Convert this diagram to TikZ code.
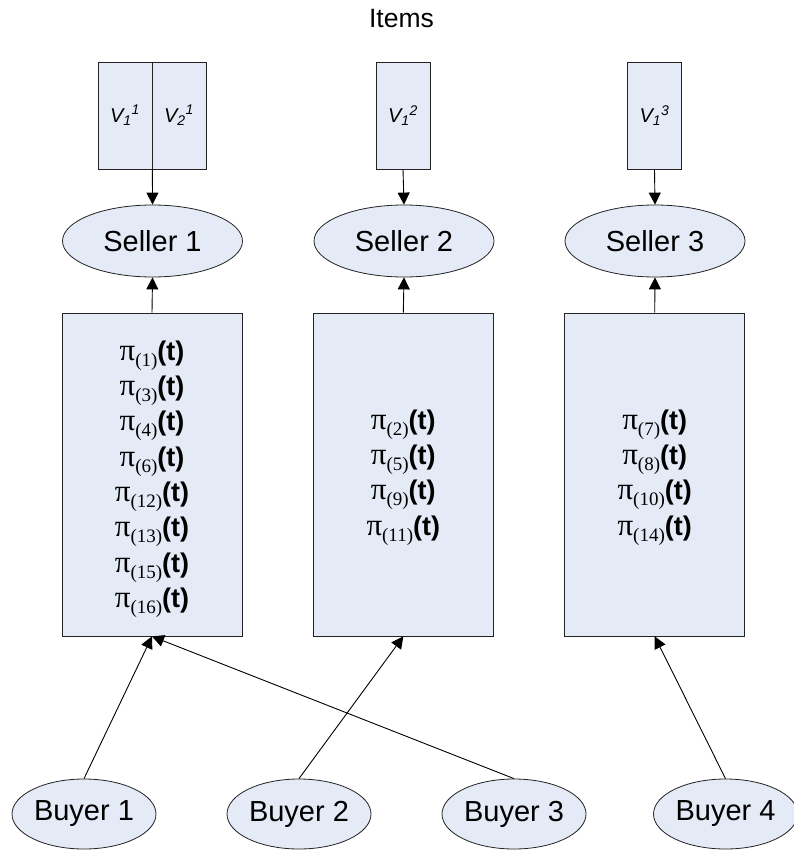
\documentclass[tikz,border=0pt]{standalone}
\usepackage{fontspec}
\setmainfont{Liberation Sans}
\newfontfamily\serifpi{Liberation Serif}
\usetikzlibrary{shapes.geometric,arrows.meta}
\definecolor{boxfill}{RGB}{228,234,246}
\definecolor{edge}{RGB}{35,35,35}
% one entry of a seller's list: pi_(k)(t)
\newcommand\pit[1]{{\serifpi\fontsize{31}{31}\selectfont π}{\serifpi\fontsize{19}{19}\selectfont\raisebox{-6pt}{(#1)}}{\fontsize{27}{27}\selectfont\bfseries(t)}}
% valuation label V_i^j
\newcommand\vlab[2]{{\itshape V\textsubscript{#1}\textsuperscript{#2}}}
\begin{document}
\begin{tikzpicture}[x=1pt,y=-1pt,
  shaded/.style={draw=edge, fill=boxfill, line width=0.8pt, inner sep=0pt},
  itembox/.style={shaded, minimum width=54pt, minimum height=107pt, font=\fontsize{20}{22}\selectfont},
  listbox/.style={shaded, minimum width=180pt, minimum height=323pt},
  listtext/.style={inner sep=0pt, align=center, font=\fontsize{27}{35.3}\selectfont},
  agent/.style={shaded, ellipse, font=\fontsize{29}{32}\selectfont},
  seller/.style={agent, minimum width=180pt, minimum height=72pt},
  buyer/.style={agent, minimum width=144pt, minimum height=70pt},
  arr/.style={-{Triangle[length=12pt,width=12pt]}, line width=0.9pt, draw=black}
]
\useasboundingbox (0,0) rectangle (794,851);

% title
\node[anchor=base, font=\fontsize{26.5}{30}\selectfont, inner sep=0pt] (title) at (401.5,27.7) {Items};

% items held by each seller
\node[itembox] (i1a) at (125,115.5) {\vlab11};
\node[itembox] (i1b) at (179,115.5) {\vlab21};
\node[itembox] (i2) at (403,115.5) {\vlab12};
\node[itembox] (i3) at (654.5,115.5) {\vlab13};

% sellers
\node[seller] (s1) at (152.5,241) {Seller 1};
\node[seller] (s2) at (404,241) {Seller 2};
\node[seller] (s3) at (655,241) {Seller 3};

% lists of buyer types
\node[listbox] (l1) at (152,474.5) {};
\node[listbox] (l2) at (403.3,474.5) {};
\node[listbox] (l3) at (654.7,474.5) {};
\node[listtext] (t1) at (152,479) {\pit{1}\\\pit{3}\\\pit{4}\\\pit{6}\\\pit{12}\\\pit{13}\\\pit{15}\\\pit{16}};
\node[listtext] (t2) at (403.3,477.5) {\pit{2}\\\pit{5}\\\pit{9}\\\pit{11}};
\node[listtext] (t3) at (654.7,477.5) {\pit{7}\\\pit{8}\\\pit{10}\\\pit{14}};

% buyers
\node[buyer] (b1) at (84,814) {Buyer 1};
\node[buyer] (b2) at (299,814) {Buyer 2};
\node[buyer] (b3) at (514,814) {Buyer 3};
\node[buyer] (b4) at (725.5,814) {Buyer 4};

% connectors
\draw[arr] (i1a.south east) -- (s1.north);
\draw[arr] (i2.south) -- (s2.north);
\draw[arr] (i3.south) -- (s3.north);
\draw[arr] (l1.north) -- (s1.south);
\draw[arr] (l2.north) -- (s2.south);
\draw[arr] (l3.north) -- (s3.south);
\draw[arr] (b1.north) -- (l1.south);
\draw[arr] (b3.north) -- (l1.south);
\draw[arr] (b2.north) -- (l2.south);
\draw[arr] (b4.north) -- (l3.south);
\end{tikzpicture}
\end{document}
